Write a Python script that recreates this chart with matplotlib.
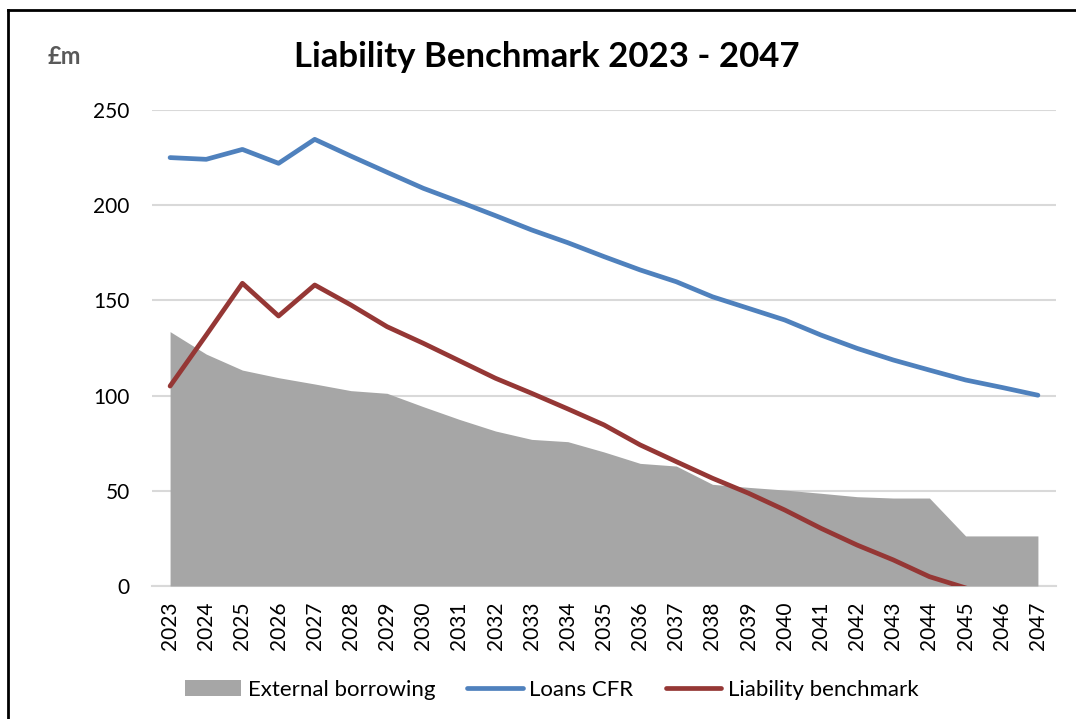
import numpy as np
import matplotlib
matplotlib.use("Agg")
import matplotlib.pyplot as plt
from matplotlib.lines import Line2D

plt.rcParams['font.family'] = ['Lato', 'DejaVu Sans']

years = list(range(2023, 2048))

# values, £m
external_borrowing = [133.6, 121.8, 113.4, 109.4, 106.1, 102.6, 101.2, 94.2, 87.5, 81.4,
                      77.0, 75.8, 70.4, 64.4, 63.0, 53.4, 51.8, 50.4, 48.7, 46.9,
                      46.2, 46.2, 26.3, 26.3, 26.3]
loans_cfr = [225.0, 224.1, 229.3, 222.0, 234.6, 225.8, 217.3, 208.9, 201.8, 194.5,
             187.0, 180.3, 173.0, 166.0, 159.8, 151.9, 145.8, 139.7, 131.8, 124.8,
             118.7, 113.4, 108.2, 104.3, 100.2]
liability_benchmark = [105.0, 131.8, 159.0, 141.8, 158.1, 147.6, 136.2, 127.5, 118.3, 109.1,
                       101.2, 93.0, 84.6, 74.1, 65.3, 56.6, 48.7, 39.9, 30.3, 21.5,
                       13.7, 4.9, -1.0, -7.0, -13.0]

fig = plt.figure(figsize=(10.76, 7.19), dpi=100)
ax = fig.add_axes([152 / 1076, 1 - 586 / 719, (1056 - 152) / 1076, (586 - 110) / 719])

ax.fill_between(years, external_borrowing, 0, color='#A6A6A6', linewidth=0,
                label='External borrowing', zorder=2)
ax.plot(years, loans_cfr, color='#4F81BD', linewidth=3.4, label='Loans CFR', zorder=3,
        solid_capstyle='round')
ax.plot(years, liability_benchmark, color='#953735', linewidth=3.4, label='Liability benchmark',
        zorder=3, solid_capstyle='round')

ax.set_xlim(2022.5, 2047.5)
ax.set_ylim(0, 250)
ax.set_yticks([0, 50, 100, 150, 200, 250])
ax.set_xticks(years)
ax.set_xticklabels([str(y) for y in years], rotation=90)
ax.tick_params(axis='both', length=0, labelsize=15, colors='black')
ax.tick_params(axis='y', pad=16)
ax.tick_params(axis='x', pad=11)
ax.grid(axis='y', color='#D9D9D9', linewidth=1.5, zorder=0)
ax.set_axisbelow(True)
for s in ['top', 'right', 'left']:
    ax.spines[s].set_visible(False)
ax.spines['bottom'].set_color('#D9D9D9')
ax.spines['bottom'].set_linewidth(1.5)
ax.spines['bottom'].set_zorder(1)

fig.text(547 / 1076, 1 - 57 / 719, 'Liability Benchmark 2023 - 2047', fontsize=25,
         fontweight='bold', ha='center', va='center')
fig.text(64 / 1076, 1 - 57 / 719, '£m', fontsize=17, fontweight='bold', color='#595959',
         ha='center', va='center')

handles, labels = ax.get_legend_handles_labels()
fig.legend(handles, labels, loc='center', bbox_to_anchor=(552 / 1076, 1 - 690 / 719), ncol=3,
           frameon=False, fontsize=16, handlelength=2.5, handletextpad=0.3,
           columnspacing=1.45)

# outer chart border (left and top)
fig.add_artist(Line2D([8 / 1076, 8 / 1076], [0, 1 - 10 / 719], color='black', linewidth=2,
                      transform=fig.transFigure))
fig.add_artist(Line2D([8 / 1076, 1], [1 - 10 / 719, 1 - 10 / 719], color='black', linewidth=2,
                      transform=fig.transFigure))

fig.savefig('out.png', dpi=100)
